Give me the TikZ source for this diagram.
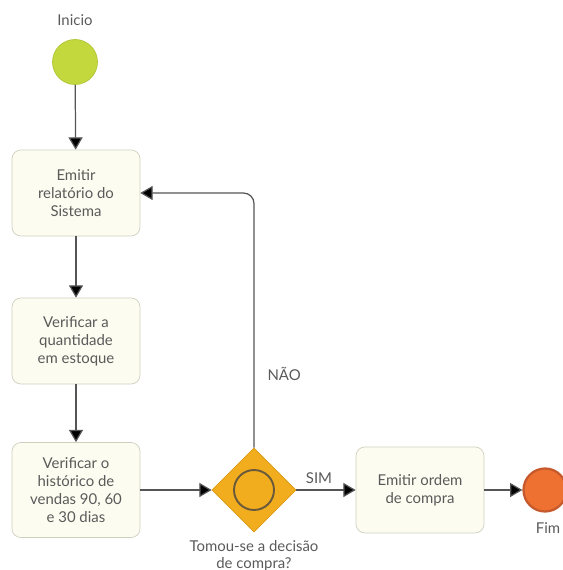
\documentclass[tikz,border=0pt]{standalone}
\usepackage{fontspec}
\setmainfont{Lato}
\usetikzlibrary{arrows.meta,shapes.geometric,positioning}

\definecolor{textoCinza}{HTML}{5A5A5A}
\definecolor{linhaCinza}{HTML}{555555}
\definecolor{caixaFundo}{HTML}{FCFCF0}
\definecolor{caixaBorda}{HTML}{CFCFC0}
\definecolor{inicioVerde}{HTML}{C2D83C}
\definecolor{inicioBorda}{HTML}{AFC335}
\definecolor{gateLaranja}{HTML}{F2AD1E}
\definecolor{gateBorda}{HTML}{DB9A14}
\definecolor{gateAnel}{HTML}{6A5A3C}
\definecolor{fimLaranja}{HTML}{EE7132}
\definecolor{fimBorda}{HTML}{C65A2C}

\tikzset{
    texto/.style={font=\fontsize{8.5}{10.2}\selectfont, text=textoCinza, align=center},
    tarefa/.style={texto, draw=caixaBorda, fill=caixaFundo, rounded corners=5pt,
        minimum width=2.56cm, minimum height=1.72cm, inner sep=2pt},
    fluxo/.style={draw=linhaCinza, line width=0.7pt,
        -{Triangle[length=7pt, width=8pt, fill=black]}},
}

\begin{document}
\begin{tikzpicture}[x=0.02cm, y=-0.02cm]
    \useasboundingbox (0,0) rectangle (562,570);

    % Start event
    \node[circle, draw=inicioBorda, fill=inicioVerde, minimum size=0.9cm, inner sep=0pt] (inicio) at (75,62) {};
    \node[texto] (inicioTxt) at (75,20) {Inicio};

    % Tasks
    \node[tarefa] (relatorio) at (76,193) {Emitir\\relatório do\\Sistema};
    \node[tarefa] (estoque) at (76,341) {Verificar a\\quantidade\\em estoque};
    \node[tarefa, minimum height=1.9cm] (historico) at (76,490) {Verificar o\\histórico de\\vendas 90, 60\\e 30 dias};

    % Gateway
    \node[diamond, draw=gateBorda, fill=gateLaranja, minimum width=1.68cm, minimum height=1.68cm, inner sep=0pt] (decisao) at (254,490) {};
    \node[circle, draw=gateAnel, line width=1.1pt, minimum size=0.8cm, inner sep=0pt] (decisaoAnel) at (254,490) {};
    \node[texto, below=1pt of decisao, font=\fontsize{8.5}{9.5}\selectfont] (decisaoTxt) {Tomou-se a decisão\\de compra?};

    \node[tarefa] (ordem) at (420,490) {Emitir ordem\\de compra};

    % End event
    \node[circle, draw=fimBorda, line width=1.3pt, fill=fimLaranja, minimum size=0.86cm, inner sep=0pt] (fim) at (545,490) {};
    \node[texto] (fimTxt) at (548,528) {Fim};

    % Flows
    \draw[fluxo] (inicio) -- (relatorio);
    \draw[fluxo] (relatorio) -- (estoque);
    \draw[fluxo] (estoque) -- (historico);
    \draw[fluxo] (historico) -- (decisao);
    \draw[fluxo, rounded corners=6pt] (decisao.north) |- node[texto, pos=0.145, right=4pt] {NÃO} (relatorio.east);
    \draw[fluxo] (decisao) -- node[texto, above, xshift=-4pt] {SIM} (ordem);
    \draw[fluxo] (ordem) -- (fim);
\end{tikzpicture}
\end{document}
